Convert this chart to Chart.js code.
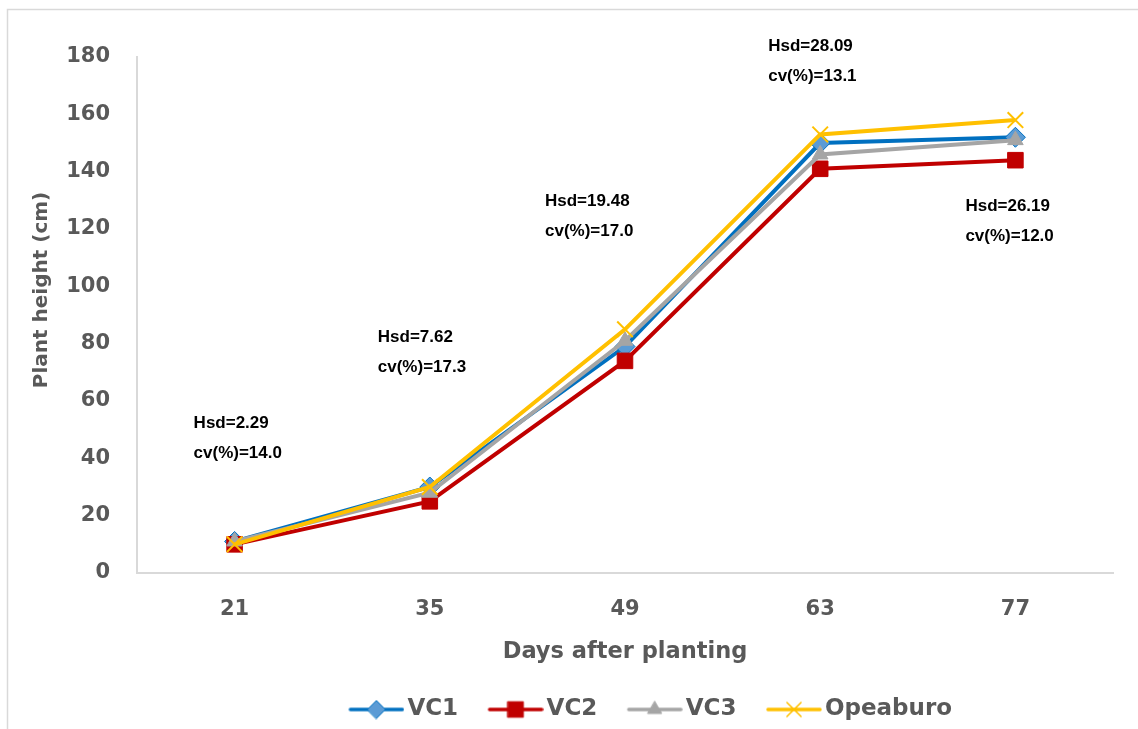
<!DOCTYPE html>
<html>
<head>
<meta charset="utf-8">
<title>Plant height</title>
<script src="https://cdn.jsdelivr.net/npm/chart.js@4/dist/chart.umd.min.js"></script>
<style>
  html, body { margin: 0; padding: 0; background: #fff; }
  #wrap { width: 1138px; height: 729px; position: relative; }
</style>
</head>
<body>
<div id="wrap"><canvas id="myChart" width="1138" height="729"></canvas></div>
<script>
// days after planting
const days = ['21', '35', '49', '63', '77'];

// plant height (cm) per variety
const vc1 = [11, 30, 79, 150, 152];
const vc2 = [10, 25, 74, 141, 144];
const vc3 = [11, 28, 81, 146, 151];
const opeaburo = [10, 30, 85, 153, 158];

const yTicks = [0, 20, 40, 60, 80, 100, 120, 140, 160, 180];

// statistics written above each sampling date
const hsdLabels = ['Hsd=2.29', 'Hsd=7.62', 'Hsd=19.48', 'Hsd=28.09', 'Hsd=26.19'];
const cvLabels = ['cv(%)=14.0', 'cv(%)=17.3', 'cv(%)=17.0', 'cv(%)=13.1', 'cv(%)=12.0'];

const AXIS_FONT = '"DejaVu Sans", sans-serif';
const NOTE_FONT = '"Liberation Sans", Arial, sans-serif';
const GREY_TEXT = '#595959';

// where the two-line notes sit: x offset from the category, y as a value on the axis
const notePlacement = [
    { dx: -41, v: 52.3 },
    { dx: -52, v: 82.3 },
    { dx: -80, v: 129.8 },
    { dx: -52, v: 183.9 },
    { dx: -50, v: 128.0 }
];

// legend symbol: line with its marker, drawn on a small canvas
// (left margin is kept transparent so the symbol sits close to its text)
function makeSymbol(color, fill, style, radius) {
    var c = document.createElement('canvas');
    c.width = 74;
    c.height = 20;
    var ctx = c.getContext('2d');
    ctx.strokeStyle = color;
    ctx.lineWidth = 3.5;
    ctx.lineCap = 'round';
    ctx.beginPath();
    ctx.moveTo(20, 10);
    ctx.lineTo(72, 10);
    ctx.stroke();
    ctx.fillStyle = fill;
    ctx.strokeStyle = style === 'crossRot' || style === 'rectRot' ? color : fill;
    ctx.lineWidth = style === 'crossRot' ? 1.5 : 1;
    Chart.helpers.drawPoint(ctx, { pointStyle: style, radius: radius, borderWidth: ctx.lineWidth }, 46, 10);
    return c;
}

const series = [
    { label: 'VC1', data: vc1, color: '#0070C0', fill: '#5B9BD5', style: 'rectRot', r: 10, lr: 9, order: 4 },
    { label: 'VC2', data: vc2, color: '#C00000', fill: '#C00000', style: 'rect', r: 11, lr: 11, order: 3 },
    { label: 'VC3', data: vc3, color: '#A5A5A5', fill: '#A5A5A5', style: 'triangle', r: 9, lr: 8, order: 2 },
    { label: 'Opeaburo', data: opeaburo, color: '#FFC000', fill: '#FFC000', style: 'crossRot', r: 11, lr: 10, order: 1 }
];

const datasets = series.map(function (s) {
    return {
        label: s.label,
        data: s.data,
        borderColor: s.color,
        backgroundColor: s.fill,
        borderWidth: 4,
        pointStyle: s.style,
        pointRadius: s.r,
        pointBorderColor: s.style === 'crossRot' || s.style === 'rectRot' ? s.color : s.fill,
        pointBackgroundColor: s.fill,
        pointBorderWidth: s.style === 'crossRot' ? 2 : 1,
        order: s.order,
        tension: 0,
        clip: false
    };
});

// writes the Hsd / cv lines, the y title and the outer frame
const notesPlugin = {
    id: 'notes',
    afterLayout(chart) {
        // legend row sits a bit right of centre
        chart.legend.left += 79;
        chart.legend.right += 79;
        chart.legend.top += 2;
        chart.legend.bottom += 2;
    },
    beforeDraw(chart) {
        var ctx = chart.ctx;
        ctx.save();
        ctx.strokeStyle = '#D9D9D9';
        ctx.lineWidth = 1.5;
        ctx.beginPath();
        ctx.moveTo(7.5, chart.height);
        ctx.lineTo(7.5, 9.5);
        ctx.lineTo(chart.width, 9.5);
        ctx.stroke();
        ctx.restore();
    },
    afterDraw(chart) {
        var ctx = chart.ctx;
        ctx.save();
        ctx.translate(42, 290);
        ctx.rotate(-Math.PI / 2);
        ctx.fillStyle = GREY_TEXT;
        ctx.font = 'bold 20px ' + AXIS_FONT;
        ctx.textAlign = 'center';
        ctx.textBaseline = 'middle';
        ctx.fillText('Plant height (cm)', 0, 0);
        ctx.restore();
    },
    afterDatasetsDraw(chart) {
        var ctx = chart.ctx;
        var x = chart.scales.x;
        var y = chart.scales.y;
        ctx.save();
        ctx.fillStyle = '#000';
        ctx.font = 'bold 17px ' + NOTE_FONT;
        ctx.textAlign = 'left';
        ctx.textBaseline = 'middle';
        days.forEach(function (d, i) {
            var px = x.getPixelForValue(i) + notePlacement[i].dx;
            var py = y.getPixelForValue(notePlacement[i].v);
            ctx.fillText(hsdLabels[i], px, py);
            ctx.fillText(cvLabels[i], px, py + 30);
        });
        ctx.restore();
    }
};

var ctx = document.getElementById('myChart').getContext('2d');
var myChart = new Chart(ctx, {
    type: 'line',
    data: { labels: days, datasets: datasets },
    plugins: [notesPlugin],
    options: {
        responsive: false,
        animation: false,
        layout: { padding: { top: 57, right: 25, left: 20, bottom: 0 } },
        scales: {
            x: {
                offset: true,
                afterFit(scale) { scale.height = 103; },
                grid: { display: false, drawTicks: false },
                border: { color: '#D9D9D9', width: 2 },
                ticks: { color: GREY_TEXT, font: { family: AXIS_FONT, size: 21, weight: 'bold' }, padding: 24 },
                title: {
                    display: true,
                    text: 'Days after planting',
                    color: GREY_TEXT,
                    font: { family: AXIS_FONT, size: 22.5, weight: 'bold' },
                    padding: { top: 4, bottom: 10 }
                }
            },
            y: {
                min: 0,
                max: 180,
                afterBuildTicks(scale) {
                    scale.ticks = yTicks.map(function (v) { return { value: v }; });
                },
                afterFit(scale) { scale.width = 117; },
                grid: { display: false, drawTicks: false },
                border: { color: '#D9D9D9', width: 2 },
                ticks: { color: GREY_TEXT, font: { family: AXIS_FONT, size: 21, weight: 'bold' }, padding: 27 }
            }
        },
        plugins: {
            legend: {
                position: 'bottom',
                labels: {
                    usePointStyle: true,
                    pointStyleWidth: 57,
                    color: GREY_TEXT,
                    font: { family: AXIS_FONT, size: 23, weight: 'bold' },
                    padding: 20,
                    generateLabels(chart) {
                        return series.map(function (s, i) {
                            return {
                                text: s.label,
                                pointStyle: makeSymbol(s.color, s.fill, s.style, s.lr),
                                fontColor: GREY_TEXT,
                                datasetIndex: i,
                                hidden: false,
                                lineWidth: 0
                            };
                        });
                    }
                }
            },
            tooltip: { enabled: false }
        }
    }
});
</script>
</body>
</html>
